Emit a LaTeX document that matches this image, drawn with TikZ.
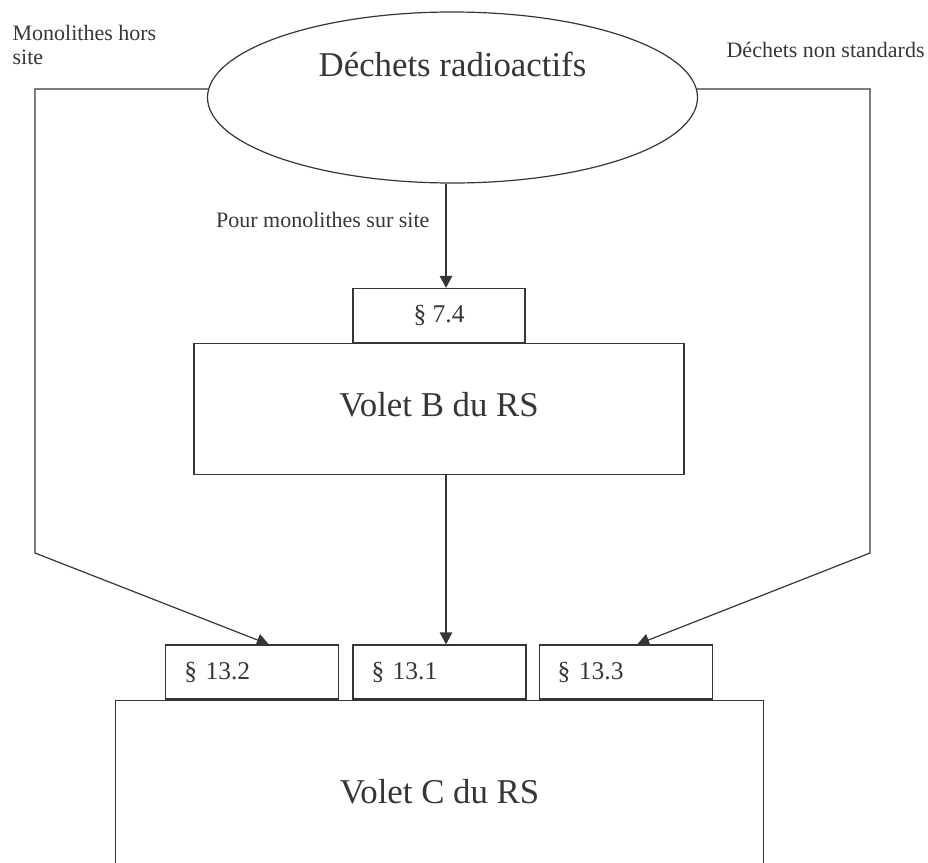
\documentclass[tikz,border=0pt]{standalone}
\usepackage{fontspec}
\setmainfont{Liberation Serif}
\usetikzlibrary{arrows.meta,positioning,shapes.geometric}
\definecolor{ink}{HTML}{363636}

\begin{document}
\begin{tikzpicture}[x=1pt,y=-1pt,>={Triangle[length=12pt,width=12.5pt]},line width=1.2pt,
  every node/.style={text=ink},
  bigtext/.style={font=\fontsize{34.8}{40}\selectfont},
  smalltext/.style={font=\fontsize{22}{23.5}\selectfont,inner sep=0pt},
  tab/.style={draw=ink,minimum height=54pt,inner sep=0pt,font=\fontsize{25.5}{28}\selectfont},
  tabl/.style={tab,text width=136pt,inner xsep=18.5pt,align=left},
  flow/.style={->,draw=ink}]
  \useasboundingbox (0,0) rectangle (928,862);
  \clip (0,0) rectangle (928,862);

  \node[draw=ink,ellipse,minimum width=490pt,minimum height=171pt,inner sep=0pt,
        label={[bigtext,yshift=33pt]center:Déchets radioactifs}] (waste) at (452.5,97.5) {};
  \node[tab,minimum width=172pt]        (s74)  at (439,315.5) {§ 7.4};
  \node[draw=ink,bigtext,minimum width=490pt,minimum height=131pt,text depth=9pt] (volB) [below=0pt of s74] {Volet B du RS};
  \node[tabl]                           (s131) at (439.5,672) {§ 13.1};
  \node[tabl]                           (s132) [left=13pt of s131]  {§ 13.2};
  \node[tabl]                           (s133) [right=12pt of s131] {§ 13.3};
  \node[draw=ink,bigtext,minimum width=648pt,minimum height=182pt] (volC) [below=0pt of s131] {Volet C du RS};

  \node[smalltext,anchor=north west,align=left] (offsite) at (12,25)  {Monolithes hors\\site};
  \node[smalltext,anchor=base west]             (nonstd)  at (726,57) {Déchets non standards};
  \node[smalltext,anchor=base east]             (onsite)  at (430,227) {Pour monolithes sur site};

  \coordinate (lturn) at (35,553);
  \coordinate (rturn) at (870,553);
  \coordinate (axis)  at (446,0);

  \draw[flow] (waste.178) -| (lturn) -- ([xshift=16.5pt]s132.north);
  \draw[flow] (waste.2) -| (rturn) -- ([xshift=11.5pt]s133.north);
  \draw[flow] (waste.south -| axis) -- (s74.north -| axis);
  \draw[flow] (volB.south -| axis) -- (s131.north -| axis);
\end{tikzpicture}
\end{document}
